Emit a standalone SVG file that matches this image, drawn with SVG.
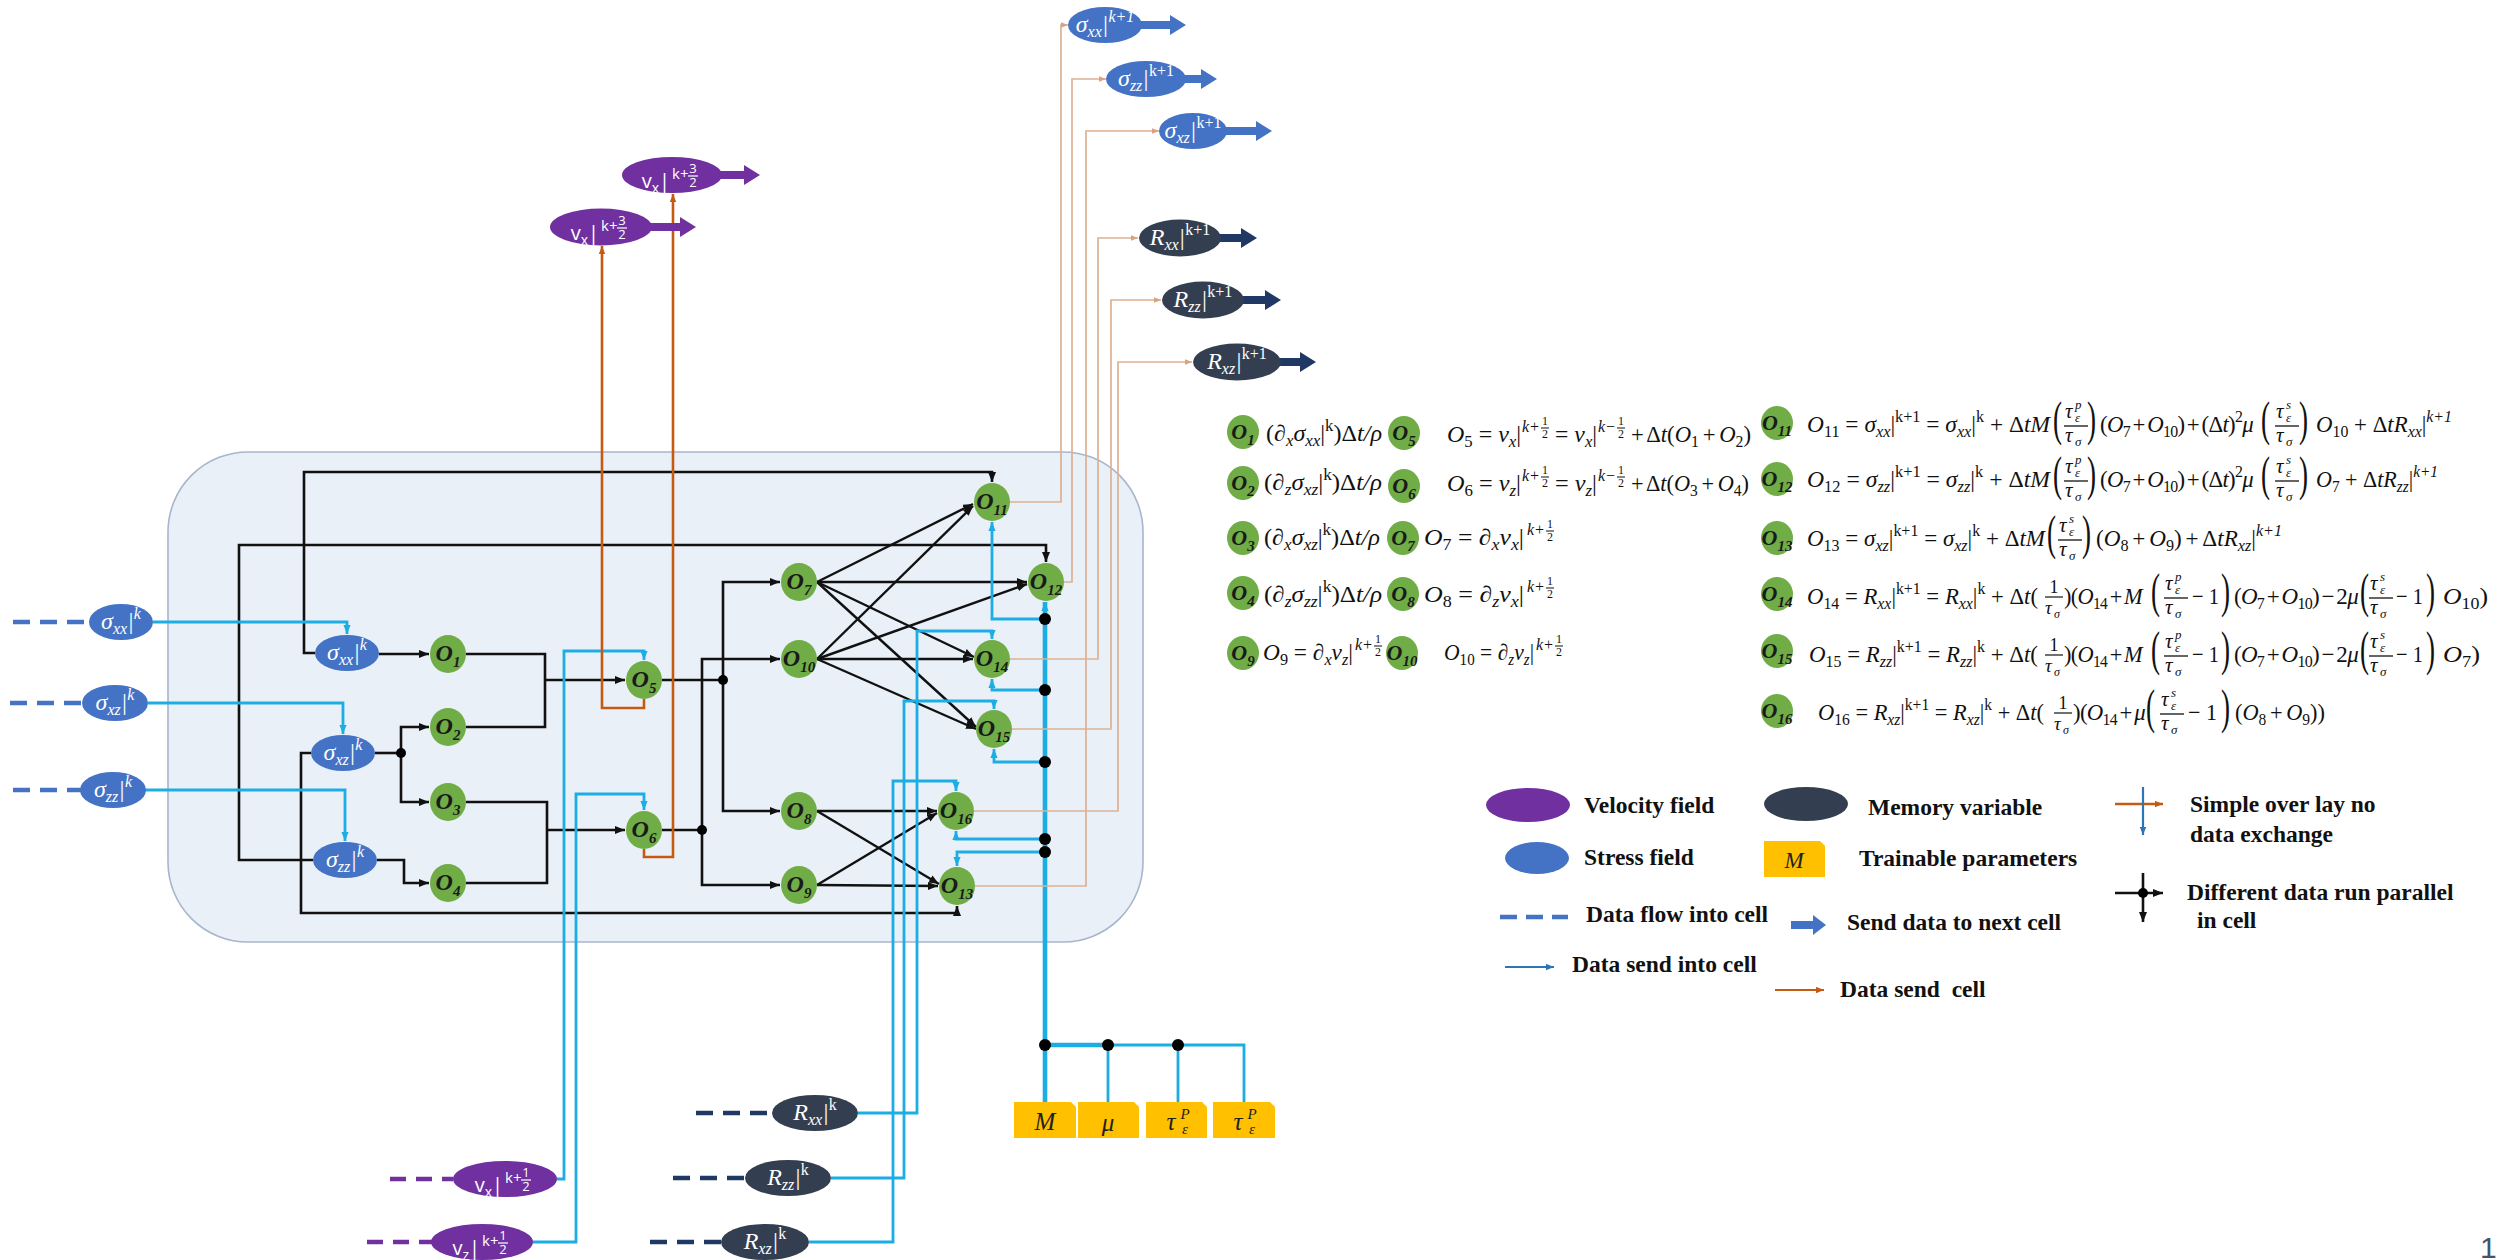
<svg xmlns="http://www.w3.org/2000/svg" width="2501" height="1260" viewBox="0 0 2501 1260">
<defs>
<style>
.cell{fill:#EAF0F8;stroke:#A7B6CB;stroke-width:1.6}
.kl{fill:none;stroke:#111;stroke-width:2.6}
.ka{fill:none;stroke:#111;stroke-width:2.6;marker-end:url(#ak)}
.kd{fill:none;stroke:#111;stroke-width:2.4;marker-end:url(#ak)}
.cl{fill:none;stroke:#1CADE4;stroke-width:2.8}
.ca{fill:none;stroke:#1CADE4;stroke-width:2.8;marker-end:url(#ac)}
.cb{stroke-width:4.6}
.oa{fill:none;stroke:#C55A11;stroke-width:2.6;marker-end:url(#ao)}
.ta{fill:none;stroke:#DDB193;stroke-width:1.7;marker-end:url(#at)}
.ds{fill:none;stroke:#4472C4;stroke-width:4.5;stroke-dasharray:17 10}
.dv{fill:none;stroke:#7030A0;stroke-width:4.5;stroke-dasharray:16 10}
.dr{fill:none;stroke:#1F3864;stroke-width:4.5;stroke-dasharray:17 10}
.dot{fill:#000}
.g{fill:#70AD47}
.sf{fill:#4472C4}
.vf{fill:#7030A0}
.mf{fill:#333F50}
.ma{fill:#203864}
.pf{fill:#FFC000}
.nl{font-family:"Liberation Serif",serif;font-weight:bold;font-style:italic;font-size:24px;fill:#1a1a1a;text-anchor:middle}
.nl2{font-family:"Liberation Serif",serif;font-weight:bold;font-style:italic;font-size:22px;fill:#1a1a1a;text-anchor:middle}
.ns{font-size:15px;baseline-shift:-6px}
.wl{font-family:"Liberation Serif",serif;font-style:italic;font-size:24px;fill:#fff;text-anchor:middle}
.ws{font-size:16px;baseline-shift:-5px}
.wp{font-size:16px;baseline-shift:10px}
.up{font-style:normal}
.vl{font-family:"Open Sans","Liberation Sans",sans-serif;font-size:20px;fill:#fff;text-anchor:end}
.vs{font-size:14px;baseline-shift:-5px}
.vk{font-family:"Open Sans","Liberation Sans",sans-serif;fill:#fff}
.m{font-family:"Liberation Serif",serif;font-style:italic;font-size:23px;fill:#111}
.tight{word-spacing:-2.5px;letter-spacing:-0.7px}
.snug{word-spacing:-2px}
.r{font-style:normal}
.sb{font-size:16px;baseline-shift:-5px}
.sp{font-size:16px;baseline-shift:10px}
.bp{font-family:"Liberation Serif",serif;font-size:48px;fill:#111}
.pl{font-family:"Liberation Serif",serif;font-style:italic;font-size:25px;fill:#222;text-anchor:middle}
.lg{font-family:"Liberation Serif",serif;font-weight:bold;font-size:23.5px;fill:#111}
</style>
<marker id="ak" viewBox="0 0 10 8" refX="10" refY="4" markerWidth="10" markerHeight="8" orient="auto" markerUnits="userSpaceOnUse"><path d="M0,0L10,4L0,8Z" fill="#111"/></marker>
<marker id="ac" viewBox="0 0 10 8" refX="10" refY="4" markerWidth="9" markerHeight="8" orient="auto" markerUnits="userSpaceOnUse"><path d="M0,0L10,4L0,8Z" fill="#1CADE4"/></marker>
<marker id="ao" viewBox="0 0 10 8" refX="10" refY="4" markerWidth="8" markerHeight="7" orient="auto" markerUnits="userSpaceOnUse"><path d="M0,0L10,4L0,8Z" fill="#C55A11"/></marker>
<marker id="at" viewBox="0 0 10 8" refX="10" refY="4" markerWidth="7" markerHeight="6" orient="auto" markerUnits="userSpaceOnUse"><path d="M0,0L10,4L0,8Z" fill="#D9A27E"/></marker>
<marker id="ab" viewBox="0 0 10 8" refX="10" refY="4" markerWidth="8" markerHeight="7" orient="auto" markerUnits="userSpaceOnUse"><path d="M0,0L10,4L0,8Z" fill="#2E75B6"/></marker>
<!-- stacked fractions used in the update equations -->
<g id="fP">
<text class="m" x="-11" y="-14" style="font-size:21px">τ</text>
<text class="m" x="-1" y="-23" style="font-size:13px">p</text>
<text class="m" x="-1" y="-10" style="font-size:13px">ε</text>
<line x1="-12" y1="-6" x2="12" y2="-6" stroke="#111" stroke-width="1.3"/>
<text class="m" x="-11" y="10" style="font-size:21px">τ</text>
<text class="m" x="-1" y="14" style="font-size:13px">σ</text>
</g>
<g id="fS">
<text class="m" x="-11" y="-14" style="font-size:21px">τ</text>
<text class="m" x="-1" y="-23" style="font-size:13px">s</text>
<text class="m" x="-1" y="-10" style="font-size:13px">ε</text>
<line x1="-12" y1="-6" x2="12" y2="-6" stroke="#111" stroke-width="1.3"/>
<text class="m" x="-11" y="10" style="font-size:21px">τ</text>
<text class="m" x="-1" y="14" style="font-size:13px">σ</text>
</g>
<g id="f1">
<text class="m r" x="0" y="-11" text-anchor="middle" style="font-size:18px">1</text>
<line x1="-9" y1="-7" x2="9" y2="-7" stroke="#111" stroke-width="1.2"/>
<text class="m" x="-9" y="10" style="font-size:19px">τ</text>
<text class="m" x="0" y="14" style="font-size:12px">σ</text>
</g>
<!-- half-step superscripts -->
<g id="ekp">
<text class="m" x="0" y="-10" style="font-size:16px">k+</text>
<text class="m r" x="23" y="-17" text-anchor="middle" style="font-size:12px">1</text>
<line x1="19" y1="-14" x2="27" y2="-14" stroke="#111" stroke-width="1"/>
<text class="m r" x="23" y="-4" text-anchor="middle" style="font-size:12px">2</text>
</g>
<g id="ekm">
<text class="m" x="0" y="-10" style="font-size:16px">k−</text>
<text class="m r" x="23" y="-17" text-anchor="middle" style="font-size:12px">1</text>
<line x1="19" y1="-14" x2="27" y2="-14" stroke="#111" stroke-width="1"/>
<text class="m r" x="23" y="-4" text-anchor="middle" style="font-size:12px">2</text>
</g>
<g id="k12">
<text class="vk" x="0" y="4" style="font-size:15px">k+</text>
<text class="vk" x="21" y="-2" text-anchor="middle" style="font-size:13px">1</text>
<line x1="16" y1="1" x2="26" y2="1" stroke="#fff" stroke-width="1.2"/>
<text class="vk" x="21" y="12" text-anchor="middle" style="font-size:13px">2</text>
</g>
<g id="k32">
<text class="vk" x="0" y="4" style="font-size:15px">k+</text>
<text class="vk" x="21" y="-2" text-anchor="middle" style="font-size:13px">3</text>
<line x1="16" y1="1" x2="26" y2="1" stroke="#fff" stroke-width="1.2"/>
<text class="vk" x="21" y="12" text-anchor="middle" style="font-size:13px">2</text>
</g>
</defs>

<rect width="2501" height="1260" fill="#fff"/>

<!-- recurrent cell body -->
<rect id="cell" class="cell" x="168" y="452" width="975" height="490" rx="80"/>

<g id="connectors">
<!-- data flowing in from the previous step -->
<line class="ds" x1="13" y1="622" x2="89" y2="622"/>
<line class="ds" x1="10" y1="703" x2="82" y2="703"/>
<line class="ds" x1="13" y1="790" x2="81" y2="790"/>
<line class="dv" x1="390" y1="1179" x2="453" y2="1179"/>
<line class="dv" x1="367" y1="1242" x2="432" y2="1242"/>
<line class="dr" x1="696" y1="1113" x2="772" y2="1113"/>
<line class="dr" x1="673" y1="1178" x2="745" y2="1178"/>
<line class="dr" x1="650" y1="1242" x2="721" y2="1242"/>

<!-- black data paths inside the cell -->
<path class="ka" d="M379,654H429"/>
<path class="ka" d="M315,653H304V472H992V482"/>
<path class="ka" d="M313,860H239V545H1046V562"/>
<path class="ka" d="M311,753H301V913H957V906"/>
<path class="kl" d="M375,753H401"/>
<path class="ka" d="M401,753V727H429"/>
<path class="ka" d="M401,753V802H429"/>
<path class="ka" d="M377,860H404V883H429"/>
<path class="kl" d="M466,654H545V727H466"/>
<path class="ka" d="M545,680H625"/>
<path class="kl" d="M466,802H547V883H466"/>
<path class="ka" d="M547,830H625"/>
<path class="kl" d="M662,680H723"/>
<path class="ka" d="M723,680V582H780"/>
<path class="ka" d="M723,680V811H780"/>
<path class="kl" d="M662,830H702"/>
<path class="ka" d="M702,830V659H780"/>
<path class="ka" d="M702,830V885H780"/>
<path class="kd" d="M817,582L973,504"/>
<path class="kd" d="M817,582L1027,582"/>
<path class="kd" d="M817,582L974,657"/>
<path class="kd" d="M817,582L976,727"/>
<path class="kd" d="M817,659L973,506"/>
<path class="kd" d="M817,659L1027,584"/>
<path class="kd" d="M817,659L973,659"/>
<path class="kd" d="M817,659L976,729"/>
<path class="kd" d="M817,811L937,811"/>
<path class="kd" d="M817,811L939,884"/>
<path class="kd" d="M817,885L937,813"/>
<path class="kd" d="M817,885L938,886"/>

<!-- data sent into the cell -->
<path class="ca" d="M153,622H347V634"/>
<path class="ca" d="M148,703H343V734"/>
<path class="ca" d="M145,790H345V841"/>
<path class="ca" d="M557,1179H564V651H644V660"/>
<path class="ca" d="M533,1242H576V794H644V810"/>
<path class="ca" d="M858,1113H917V631H992V639"/>
<path class="ca" d="M831,1178H904V701H994V709"/>
<path class="ca" d="M809,1242H893V781H956V791"/>
<path class="ca cb" d="M1045,1102V602"/>
<path class="ca" d="M1045,619H992V522"/>
<path class="ca" d="M1045,690H992V679"/>
<path class="ca" d="M1045,762H994V749"/>
<path class="ca" d="M1045,839H956V831"/>
<path class="ca" d="M1045,852H957V866"/>
<path class="cl cb" d="M1045,1045H1108"/>
<path class="cl" d="M1108,1045H1244V1102"/>
<path class="cl" d="M1108,1045V1102"/>
<path class="cl" d="M1178,1045V1102"/>

<!-- data sent out of the cell -->
<path class="oa" d="M644,699V708H602V246"/>
<path class="oa" d="M644,849V857H673V194"/>
<path class="ta" d="M1010,502H1061V25H1068"/>
<path class="ta" d="M1064,582H1072V79H1106"/>
<path class="ta" d="M975,886H1086V131H1159"/>
<path class="ta" d="M1010,659H1098V238H1138"/>
<path class="ta" d="M1012,729H1111V300H1161"/>
<path class="ta" d="M974,811H1118V362H1192"/>

<!-- junctions -->
<circle class="dot" cx="401" cy="753" r="5"/>
<circle class="dot" cx="723" cy="680" r="5"/>
<circle class="dot" cx="702" cy="830" r="5"/>
<circle class="dot" cx="1045" cy="619" r="6"/>
<circle class="dot" cx="1045" cy="690" r="6"/>
<circle class="dot" cx="1045" cy="762" r="6"/>
<circle class="dot" cx="1045" cy="839" r="6"/>
<circle class="dot" cx="1045" cy="852" r="6"/>
<circle class="dot" cx="1045" cy="1045" r="6"/>
<circle class="dot" cx="1108" cy="1045" r="6"/>
<circle class="dot" cx="1178" cy="1045" r="6"/>
</g>

<!-- stress inputs -->
<g id="in-sxx"><ellipse class="sf" cx="121" cy="622" rx="32" ry="18"/><text class="wl" x="121" y="629">σ<tspan class="ws">xx</tspan>|<tspan class="wp">k</tspan></text></g>
<g id="in-sxz"><ellipse class="sf" cx="115" cy="703" rx="33" ry="18"/><text class="wl" x="115" y="710">σ<tspan class="ws">xz</tspan>|<tspan class="wp">k</tspan></text></g>
<g id="in-szz"><ellipse class="sf" cx="113" cy="790" rx="33" ry="18"/><text class="wl" x="113" y="797">σ<tspan class="ws">zz</tspan>|<tspan class="wp">k</tspan></text></g>
<g id="c-sxx"><ellipse class="sf" cx="347" cy="653" rx="32" ry="18"/><text class="wl" x="347" y="660">σ<tspan class="ws">xx</tspan>|<tspan class="wp">k</tspan></text></g>
<g id="c-sxz"><ellipse class="sf" cx="343" cy="753" rx="32" ry="18"/><text class="wl" x="343" y="760">σ<tspan class="ws">xz</tspan>|<tspan class="wp">k</tspan></text></g>
<g id="c-szz"><ellipse class="sf" cx="345" cy="860" rx="32" ry="18"/><text class="wl" x="345" y="867">σ<tspan class="ws">zz</tspan>|<tspan class="wp">k</tspan></text></g>

<!-- velocity inputs -->
<g id="in-vx"><ellipse class="vf" cx="505" cy="1179" rx="52" ry="18"/><text class="vl" x="503" y="1192">v<tspan class="vs">x</tspan>|</text><use href="#k12" x="505" y="1179"/></g>
<g id="in-vz"><ellipse class="vf" cx="482" cy="1242" rx="51" ry="18"/><text class="vl" x="480" y="1255">v<tspan class="vs">z</tspan>|</text><use href="#k12" x="482" y="1242"/></g>

<!-- memory inputs -->
<g id="in-rxx"><ellipse class="mf" cx="815" cy="1113" rx="43" ry="18"/><text class="wl" x="815" y="1120">R<tspan class="ws">xx</tspan>|<tspan class="wp up">k</tspan></text></g>
<g id="in-rzz"><ellipse class="mf" cx="788" cy="1178" rx="43" ry="18"/><text class="wl" x="788" y="1185">R<tspan class="ws">zz</tspan>|<tspan class="wp up">k</tspan></text></g>
<g id="in-rxz"><ellipse class="mf" cx="765" cy="1242" rx="44" ry="18"/><text class="wl" x="765" y="1249">R<tspan class="ws">xz</tspan>|<tspan class="wp up">k</tspan></text></g>

<!-- operation nodes -->
<g id="O1"><ellipse class="g" cx="448" cy="654" rx="18" ry="19"/><text class="nl" x="448" y="661">O<tspan class="ns">1</tspan></text></g>
<g id="O2"><ellipse class="g" cx="448" cy="727" rx="18" ry="19"/><text class="nl" x="448" y="734">O<tspan class="ns">2</tspan></text></g>
<g id="O3"><ellipse class="g" cx="448" cy="802" rx="18" ry="19"/><text class="nl" x="448" y="809">O<tspan class="ns">3</tspan></text></g>
<g id="O4"><ellipse class="g" cx="448" cy="883" rx="18" ry="19"/><text class="nl" x="448" y="890">O<tspan class="ns">4</tspan></text></g>
<g id="O5"><ellipse class="g" cx="644" cy="680" rx="18" ry="19"/><text class="nl" x="644" y="687">O<tspan class="ns">5</tspan></text></g>
<g id="O6"><ellipse class="g" cx="644" cy="830" rx="18" ry="19"/><text class="nl" x="644" y="837">O<tspan class="ns">6</tspan></text></g>
<g id="O7"><ellipse class="g" cx="799" cy="582" rx="18" ry="19"/><text class="nl" x="799" y="589">O<tspan class="ns">7</tspan></text></g>
<g id="O10"><ellipse class="g" cx="799" cy="659" rx="18" ry="19"/><text class="nl" x="799" y="666">O<tspan class="ns">10</tspan></text></g>
<g id="O8"><ellipse class="g" cx="799" cy="811" rx="18" ry="19"/><text class="nl" x="799" y="818">O<tspan class="ns">8</tspan></text></g>
<g id="O9"><ellipse class="g" cx="799" cy="885" rx="18" ry="19"/><text class="nl" x="799" y="892">O<tspan class="ns">9</tspan></text></g>
<g id="O11"><ellipse class="g" cx="992" cy="502" rx="18" ry="19"/><text class="nl" x="992" y="509">O<tspan class="ns">11</tspan></text></g>
<g id="O12"><ellipse class="g" cx="1046" cy="582" rx="18" ry="19"/><text class="nl" x="1046" y="589">O<tspan class="ns">12</tspan></text></g>
<g id="O14"><ellipse class="g" cx="992" cy="659" rx="18" ry="19"/><text class="nl" x="992" y="666">O<tspan class="ns">14</tspan></text></g>
<g id="O15"><ellipse class="g" cx="994" cy="729" rx="18" ry="19"/><text class="nl" x="994" y="736">O<tspan class="ns">15</tspan></text></g>
<g id="O16"><ellipse class="g" cx="956" cy="811" rx="18" ry="19"/><text class="nl" x="956" y="818">O<tspan class="ns">16</tspan></text></g>
<g id="O13"><ellipse class="g" cx="957" cy="886" rx="18" ry="19"/><text class="nl" x="957" y="893">O<tspan class="ns">13</tspan></text></g>

<!-- trainable parameters -->
<g id="p-M"><path class="pf" d="M1014,1138V1102H1071L1076,1107V1138Z"/><text class="pl" x="1045" y="1130">M</text></g>
<g id="p-mu"><path class="pf" d="M1078,1138V1102H1134L1139,1107V1138Z"/><text class="pl" x="1108" y="1131">μ</text></g>
<g id="p-tau1"><path class="pf" d="M1146,1138V1102H1202L1207,1107V1138Z"/><text class="pl" x="1171" y="1130">τ</text><text class="pl" x="1185" y="1119" style="font-size:15px">P</text><text class="pl" x="1185" y="1134" style="font-size:15px">ε</text></g>
<g id="p-tau2"><path class="pf" d="M1213,1138V1102H1270L1275,1107V1138Z"/><text class="pl" x="1238" y="1130">τ</text><text class="pl" x="1252" y="1119" style="font-size:15px">P</text><text class="pl" x="1252" y="1134" style="font-size:15px">ε</text></g>

<!-- velocity outputs -->
<g id="out-vx1"><path class="vf" d="M648,223H680V217L696,227L680,237V231H648Z"/><ellipse class="vf" cx="601" cy="227" rx="51" ry="18.5"/><text class="vl" x="599" y="240">v<tspan class="vs">x</tspan>|</text><use href="#k32" x="601" y="227"/></g>
<g id="out-vx2"><path class="vf" d="M718,171H744V165L760,175L744,185V179H718Z"/><ellipse class="vf" cx="672" cy="175" rx="50" ry="18"/><text class="vl" x="670" y="188">v<tspan class="vs">x</tspan>|</text><use href="#k32" x="672" y="175"/></g>

<!-- stress outputs -->
<g id="out-sxx"><path class="sf" d="M1138,21H1170V15L1186,25L1170,35V29H1138Z"/><ellipse class="sf" cx="1105" cy="25" rx="37" ry="18"/><text class="wl" x="1105" y="32">σ<tspan class="ws">xx</tspan>|<tspan class="wp">k+1</tspan></text></g>
<g id="out-szz"><path class="sf" d="M1180,75H1201V69L1217,79L1201,89V83H1180Z"/><ellipse class="sf" cx="1146" cy="79" rx="40" ry="18"/><text class="wl" x="1146" y="86">σ<tspan class="ws">zz</tspan>|<tspan class="wp up">k+1</tspan></text></g>
<g id="out-sxz"><path class="sf" d="M1222,127H1256V121L1272,131L1256,141V135H1222Z"/><ellipse class="sf" cx="1193" cy="131" rx="34" ry="18"/><text class="wl" x="1193" y="138">σ<tspan class="ws">xz</tspan>|<tspan class="wp up">k+1</tspan></text></g>

<!-- memory outputs -->
<g id="out-rxx"><path class="ma" d="M1218,234H1241V228L1257,238L1241,248V242H1218Z"/><ellipse class="mf" cx="1180" cy="238" rx="41" ry="18.5"/><text class="wl" x="1180" y="245">R<tspan class="ws">xx</tspan>|<tspan class="wp up">k+1</tspan></text></g>
<g id="out-rzz"><path class="ma" d="M1240,296H1265V290L1281,300L1265,310V304H1240Z"/><ellipse class="mf" cx="1203" cy="300" rx="41" ry="18.5"/><text class="wl" x="1203" y="307">R<tspan class="ws">zz</tspan>|<tspan class="wp up">k+1</tspan></text></g>
<g id="out-rxz"><path class="ma" d="M1276,358H1300V352L1316,362L1300,372V366H1276Z"/><ellipse class="mf" cx="1237" cy="362" rx="44" ry="18.5"/><text class="wl" x="1237" y="369">R<tspan class="ws">xz</tspan>|<tspan class="wp up">k+1</tspan></text></g>

<!-- operation definitions, columns 1 and 2 -->
<g id="defs-left">
<ellipse class="g" cx="1243" cy="432" rx="16" ry="17"/><text class="nl2" x="1243" y="439">O<tspan class="ns">1</tspan></text>
<ellipse class="g" cx="1243" cy="483" rx="16" ry="17"/><text class="nl2" x="1243" y="490">O<tspan class="ns">2</tspan></text>
<ellipse class="g" cx="1243" cy="538" rx="16" ry="17"/><text class="nl2" x="1243" y="545">O<tspan class="ns">3</tspan></text>
<ellipse class="g" cx="1243" cy="593" rx="16" ry="17"/><text class="nl2" x="1243" y="600">O<tspan class="ns">4</tspan></text>
<ellipse class="g" cx="1243" cy="653" rx="16" ry="17"/><text class="nl2" x="1243" y="660">O<tspan class="ns">9</tspan></text>
<ellipse class="g" cx="1404" cy="433" rx="16" ry="17"/><text class="nl2" x="1404" y="440">O<tspan class="ns">5</tspan></text>
<ellipse class="g" cx="1404" cy="486" rx="16" ry="17"/><text class="nl2" x="1404" y="493">O<tspan class="ns">6</tspan></text>
<ellipse class="g" cx="1403" cy="538" rx="16" ry="17"/><text class="nl2" x="1403" y="545">O<tspan class="ns">7</tspan></text>
<ellipse class="g" cx="1403" cy="594" rx="16" ry="17"/><text class="nl2" x="1403" y="601">O<tspan class="ns">8</tspan></text>
<ellipse class="g" cx="1402" cy="653" rx="16" ry="17"/><text class="nl2" x="1402" y="660">O<tspan class="ns">10</tspan></text>

<text class="m" x="1266" y="441" textLength="116" lengthAdjust="spacingAndGlyphs"><tspan class="r">(</tspan>∂<tspan class="sb">x</tspan>σ<tspan class="sb">xx</tspan><tspan class="r">|</tspan><tspan class="sp r">k</tspan><tspan class="r">)Δ</tspan>t/ρ</text>
<text class="m" x="1264" y="490" textLength="118" lengthAdjust="spacingAndGlyphs"><tspan class="r">(</tspan>∂<tspan class="sb">z</tspan>σ<tspan class="sb">xz</tspan><tspan class="r">|</tspan><tspan class="sp r">k</tspan><tspan class="r">)Δ</tspan>t/ρ</text>
<text class="m" x="1264" y="545" textLength="116" lengthAdjust="spacingAndGlyphs"><tspan class="r">(</tspan>∂<tspan class="sb">x</tspan>σ<tspan class="sb">xz</tspan><tspan class="r">|</tspan><tspan class="sp r">k</tspan><tspan class="r">)Δ</tspan>t/ρ</text>
<text class="m" x="1264" y="602" textLength="118" lengthAdjust="spacingAndGlyphs"><tspan class="r">(</tspan>∂<tspan class="sb">z</tspan>σ<tspan class="sb">zz</tspan><tspan class="r">|</tspan><tspan class="sp r">k</tspan><tspan class="r">)Δ</tspan>t/ρ</text>
<text class="m" x="1263" y="660" textLength="90" lengthAdjust="spacingAndGlyphs">O<tspan class="sb r">9</tspan><tspan class="r"> = </tspan>∂<tspan class="sb">x</tspan>v<tspan class="sb">z</tspan><tspan class="r">|</tspan></text>
<use href="#ekp" x="1355" y="660"/>

<text class="m" x="1447" y="442" textLength="74" lengthAdjust="spacingAndGlyphs">O<tspan class="sb r">5</tspan><tspan class="r"> = </tspan>v<tspan class="sb">x</tspan><tspan class="r">|</tspan></text>
<use href="#ekp" x="1522" y="442"/>
<text class="m" x="1555" y="442" textLength="42" lengthAdjust="spacingAndGlyphs"><tspan class="r">= </tspan>v<tspan class="sb">x</tspan><tspan class="r">|</tspan></text>
<use href="#ekm" x="1598" y="442"/>
<text class="m snug" x="1631" y="442" textLength="120" lengthAdjust="spacingAndGlyphs"><tspan class="r">+ Δ</tspan>t<tspan class="r">(</tspan>O<tspan class="sb r">1</tspan><tspan class="r"> + </tspan>O<tspan class="sb r">2</tspan><tspan class="r">)</tspan></text>

<text class="m" x="1447" y="491" textLength="74" lengthAdjust="spacingAndGlyphs">O<tspan class="sb r">6</tspan><tspan class="r"> = </tspan>v<tspan class="sb">z</tspan><tspan class="r">|</tspan></text>
<use href="#ekp" x="1522" y="491"/>
<text class="m" x="1555" y="491" textLength="42" lengthAdjust="spacingAndGlyphs"><tspan class="r">= </tspan>v<tspan class="sb">z</tspan><tspan class="r">|</tspan></text>
<use href="#ekm" x="1598" y="491"/>
<text class="m snug" x="1631" y="491" textLength="118" lengthAdjust="spacingAndGlyphs"><tspan class="r">+ Δ</tspan>t<tspan class="r">(</tspan>O<tspan class="sb r">3</tspan><tspan class="r"> + </tspan>O<tspan class="sb r">4</tspan><tspan class="r">)</tspan></text>

<text class="m" x="1424" y="545" textLength="100" lengthAdjust="spacingAndGlyphs">O<tspan class="sb r">7</tspan><tspan class="r"> = </tspan>∂<tspan class="sb">x</tspan>v<tspan class="sb">x</tspan><tspan class="r">|</tspan></text>
<use href="#ekp" x="1527" y="545"/>
<text class="m" x="1424" y="602" textLength="100" lengthAdjust="spacingAndGlyphs">O<tspan class="sb r">8</tspan><tspan class="r"> = </tspan>∂<tspan class="sb">z</tspan>v<tspan class="sb">x</tspan><tspan class="r">|</tspan></text>
<use href="#ekp" x="1527" y="602"/>
<text class="m" x="1444" y="660" textLength="90" lengthAdjust="spacingAndGlyphs">O<tspan class="sb r">10</tspan><tspan class="r"> = </tspan>∂<tspan class="sb">z</tspan>v<tspan class="sb">z</tspan><tspan class="r">|</tspan></text>
<use href="#ekp" x="1536" y="660"/>
</g>

<!-- stress and memory update equations -->
<g id="defs-right">
<ellipse class="g" cx="1777" cy="423" rx="16" ry="17"/><text class="nl2" x="1777" y="430">O<tspan class="ns">11</tspan></text>
<ellipse class="g" cx="1777" cy="479" rx="16" ry="17"/><text class="nl2" x="1777" y="486">O<tspan class="ns">12</tspan></text>
<ellipse class="g" cx="1777" cy="538" rx="16" ry="17"/><text class="nl2" x="1777" y="545">O<tspan class="ns">13</tspan></text>
<ellipse class="g" cx="1777" cy="594" rx="16" ry="17"/><text class="nl2" x="1777" y="601">O<tspan class="ns">14</tspan></text>
<ellipse class="g" cx="1777" cy="651" rx="16" ry="17"/><text class="nl2" x="1777" y="658">O<tspan class="ns">15</tspan></text>
<ellipse class="g" cx="1777" cy="711" rx="16" ry="17"/><text class="nl2" x="1777" y="718">O<tspan class="ns">16</tspan></text>

<!-- O11 -->
<text class="m" x="1807" y="432" textLength="243" lengthAdjust="spacingAndGlyphs">O<tspan class="sb r">11</tspan><tspan class="r"> = </tspan>σ<tspan class="sb">xx</tspan><tspan class="r">|</tspan><tspan class="sp r">k+1</tspan><tspan class="r"> = </tspan>σ<tspan class="sb">xx</tspan><tspan class="r">|</tspan><tspan class="sp r">k</tspan><tspan class="r"> + Δ</tspan>tM</text>
<text class="bp" x="2053" y="435" textLength="9" lengthAdjust="spacingAndGlyphs">(</text>
<use href="#fP" x="2076" y="432"/>
<text class="bp" x="2087" y="435" textLength="9" lengthAdjust="spacingAndGlyphs">)</text>
<text class="m tight" x="2100" y="432" textLength="153" lengthAdjust="spacingAndGlyphs"><tspan class="r">(</tspan>O<tspan class="sb r">7</tspan><tspan class="r"> + </tspan>O<tspan class="sb r">10</tspan><tspan class="r">) + (Δ</tspan>t<tspan class="r">)</tspan><tspan class="sp r">2</tspan>μ</text>
<text class="bp" x="2261" y="435" textLength="9" lengthAdjust="spacingAndGlyphs">(</text>
<use href="#fS" x="2287" y="432"/>
<text class="bp" x="2299" y="435" textLength="9" lengthAdjust="spacingAndGlyphs">)</text>
<text class="m" x="2316" y="432" textLength="136" lengthAdjust="spacingAndGlyphs">O<tspan class="sb r">10</tspan><tspan class="r"> + Δ</tspan>tR<tspan class="sb">xx</tspan><tspan class="r">|</tspan><tspan class="sp">k+1</tspan></text>

<!-- O12 -->
<text class="m" x="1807" y="487" textLength="243" lengthAdjust="spacingAndGlyphs">O<tspan class="sb r">12</tspan><tspan class="r"> = </tspan>σ<tspan class="sb">zz</tspan><tspan class="r">|</tspan><tspan class="sp r">k+1</tspan><tspan class="r"> = </tspan>σ<tspan class="sb">zz</tspan><tspan class="r">|</tspan><tspan class="sp r">k</tspan><tspan class="r"> + Δ</tspan>tM</text>
<text class="bp" x="2053" y="490" textLength="9" lengthAdjust="spacingAndGlyphs">(</text>
<use href="#fP" x="2076" y="487"/>
<text class="bp" x="2087" y="490" textLength="9" lengthAdjust="spacingAndGlyphs">)</text>
<text class="m tight" x="2100" y="487" textLength="153" lengthAdjust="spacingAndGlyphs"><tspan class="r">(</tspan>O<tspan class="sb r">7</tspan><tspan class="r"> + </tspan>O<tspan class="sb r">10</tspan><tspan class="r">) + (Δ</tspan>t<tspan class="r">)</tspan><tspan class="sp r">2</tspan>μ</text>
<text class="bp" x="2261" y="490" textLength="9" lengthAdjust="spacingAndGlyphs">(</text>
<use href="#fS" x="2287" y="487"/>
<text class="bp" x="2299" y="490" textLength="9" lengthAdjust="spacingAndGlyphs">)</text>
<text class="m" x="2316" y="487" textLength="122" lengthAdjust="spacingAndGlyphs">O<tspan class="sb r">7</tspan><tspan class="r"> + Δ</tspan>tR<tspan class="sb">zz</tspan><tspan class="r">|</tspan><tspan class="sp">k+1</tspan></text>

<!-- O13 -->
<text class="m" x="1807" y="546" textLength="238" lengthAdjust="spacingAndGlyphs">O<tspan class="sb r">13</tspan><tspan class="r"> = </tspan>σ<tspan class="sb">xz</tspan><tspan class="r">|</tspan><tspan class="sp r">k+1</tspan><tspan class="r"> = </tspan>σ<tspan class="sb">xz</tspan><tspan class="r">|</tspan><tspan class="sp r">k</tspan><tspan class="r"> + Δ</tspan>tM</text>
<text class="bp" x="2047" y="549" textLength="9" lengthAdjust="spacingAndGlyphs">(</text>
<use href="#fS" x="2070" y="546"/>
<text class="bp" x="2082" y="549" textLength="9" lengthAdjust="spacingAndGlyphs">)</text>
<text class="m snug" x="2096" y="546" textLength="186" lengthAdjust="spacingAndGlyphs"><tspan class="r">(</tspan>O<tspan class="sb r">8</tspan><tspan class="r"> + </tspan>O<tspan class="sb r">9</tspan><tspan class="r">) + Δ</tspan>tR<tspan class="sb">xz</tspan><tspan class="r">|</tspan><tspan class="sp">k+1</tspan></text>

<!-- O14 -->
<text class="m" x="1807" y="604" textLength="231" lengthAdjust="spacingAndGlyphs">O<tspan class="sb r">14</tspan><tspan class="r"> = </tspan>R<tspan class="sb">xx</tspan><tspan class="r">|</tspan><tspan class="sp r">k+1</tspan><tspan class="r"> = </tspan>R<tspan class="sb">xx</tspan><tspan class="r">|</tspan><tspan class="sp r">k</tspan><tspan class="r"> + Δ</tspan>t<tspan class="r">(</tspan></text>
<use href="#f1" x="2054" y="604"/>
<text class="m tight" x="2064" y="604" textLength="78" lengthAdjust="spacingAndGlyphs"><tspan class="r">)(</tspan>O<tspan class="sb r">14</tspan><tspan class="r"> + </tspan>M</text>
<text class="bp" x="2151" y="607" textLength="9" lengthAdjust="spacingAndGlyphs">(</text>
<use href="#fP" x="2176" y="604"/>
<text class="m r" x="2192" y="604" textLength="27" lengthAdjust="spacingAndGlyphs">− 1</text>
<text class="bp" x="2221" y="607" textLength="9" lengthAdjust="spacingAndGlyphs">)</text>
<text class="m tight" x="2234" y="604" textLength="124" lengthAdjust="spacingAndGlyphs"><tspan class="r">(</tspan>O<tspan class="sb r">7</tspan><tspan class="r"> + </tspan>O<tspan class="sb r">10</tspan><tspan class="r">) − 2</tspan>μ</text>
<text class="bp" x="2360" y="607" textLength="9" lengthAdjust="spacingAndGlyphs">(</text>
<use href="#fS" x="2381" y="604"/>
<text class="m r" x="2396" y="604" textLength="27" lengthAdjust="spacingAndGlyphs">− 1</text>
<text class="bp" x="2426" y="607" textLength="9" lengthAdjust="spacingAndGlyphs">)</text>
<text class="m" x="2443" y="604" textLength="45" lengthAdjust="spacingAndGlyphs">O<tspan class="sb r">10</tspan><tspan class="r">)</tspan></text>

<!-- O15 -->
<text class="m" x="1809" y="662" textLength="229" lengthAdjust="spacingAndGlyphs">O<tspan class="sb r">15</tspan><tspan class="r"> = </tspan>R<tspan class="sb">zz</tspan><tspan class="r">|</tspan><tspan class="sp r">k+1</tspan><tspan class="r"> = </tspan>R<tspan class="sb">zz</tspan><tspan class="r">|</tspan><tspan class="sp r">k</tspan><tspan class="r"> + Δ</tspan>t<tspan class="r">(</tspan></text>
<use href="#f1" x="2054" y="662"/>
<text class="m tight" x="2064" y="662" textLength="78" lengthAdjust="spacingAndGlyphs"><tspan class="r">)(</tspan>O<tspan class="sb r">14</tspan><tspan class="r"> + </tspan>M</text>
<text class="bp" x="2151" y="665" textLength="9" lengthAdjust="spacingAndGlyphs">(</text>
<use href="#fP" x="2176" y="662"/>
<text class="m r" x="2192" y="662" textLength="27" lengthAdjust="spacingAndGlyphs">− 1</text>
<text class="bp" x="2221" y="665" textLength="9" lengthAdjust="spacingAndGlyphs">)</text>
<text class="m tight" x="2234" y="662" textLength="124" lengthAdjust="spacingAndGlyphs"><tspan class="r">(</tspan>O<tspan class="sb r">7</tspan><tspan class="r"> + </tspan>O<tspan class="sb r">10</tspan><tspan class="r">) − 2</tspan>μ</text>
<text class="bp" x="2360" y="665" textLength="9" lengthAdjust="spacingAndGlyphs">(</text>
<use href="#fS" x="2381" y="662"/>
<text class="m r" x="2396" y="662" textLength="27" lengthAdjust="spacingAndGlyphs">− 1</text>
<text class="bp" x="2426" y="665" textLength="9" lengthAdjust="spacingAndGlyphs">)</text>
<text class="m" x="2443" y="662" textLength="37" lengthAdjust="spacingAndGlyphs">O<tspan class="sb r">7</tspan><tspan class="r">)</tspan></text>

<!-- O16 -->
<text class="m" x="1818" y="720" textLength="226" lengthAdjust="spacingAndGlyphs">O<tspan class="sb r">16</tspan><tspan class="r"> = </tspan>R<tspan class="sb">xz</tspan><tspan class="r">|</tspan><tspan class="sp r">k+1</tspan><tspan class="r"> = </tspan>R<tspan class="sb">xz</tspan><tspan class="r">|</tspan><tspan class="sp r">k</tspan><tspan class="r"> + Δ</tspan>t<tspan class="r">(</tspan></text>
<use href="#f1" x="2063" y="720"/>
<text class="m tight" x="2073" y="720" textLength="72" lengthAdjust="spacingAndGlyphs"><tspan class="r">)(</tspan>O<tspan class="sb r">14</tspan><tspan class="r"> + </tspan>μ</text>
<text class="bp" x="2146" y="723" textLength="9" lengthAdjust="spacingAndGlyphs">(</text>
<use href="#fS" x="2172" y="720"/>
<text class="m r" x="2188" y="720" textLength="29" lengthAdjust="spacingAndGlyphs">− 1</text>
<text class="bp" x="2221" y="723" textLength="9" lengthAdjust="spacingAndGlyphs">)</text>
<text class="m snug" x="2235" y="720" textLength="90" lengthAdjust="spacingAndGlyphs"><tspan class="r">(</tspan>O<tspan class="sb r">8</tspan><tspan class="r"> + </tspan>O<tspan class="sb r">9</tspan><tspan class="r">))</tspan></text>
</g>

<!-- legend -->
<g id="legend">
<ellipse class="vf" cx="1528" cy="805" rx="42" ry="17"/>
<text class="lg" x="1584" y="813">Velocity field</text>
<ellipse class="mf" cx="1806" cy="804" rx="42" ry="17"/>
<text class="lg" x="1868" y="815">Memory variable</text>
<ellipse class="sf" cx="1537" cy="858" rx="32" ry="16"/>
<text class="lg" x="1584" y="865">Stress field</text>
<path class="pf" d="M1764,877V841H1820L1825,846V877Z"/>
<text class="pl" x="1794" y="868" style="font-size:23px">M</text>
<text class="lg" x="1859" y="866">Trainable parameters</text>
<line x1="1500" y1="917" x2="1568" y2="917" style="stroke:#4472C4;stroke-width:4.5;stroke-dasharray:17 9"/>
<text class="lg" x="1586" y="922">Data flow into cell</text>
<path class="sf" d="M1791,921H1813V915L1826,925L1813,935V929H1791Z"/>
<text class="lg" x="1847" y="930">Send data to next cell</text>
<line x1="1505" y1="967" x2="1554" y2="967" style="stroke:#2E75B6;stroke-width:2.2;marker-end:url(#ab)"/>
<text class="lg" x="1572" y="972">Data send into cell</text>
<line x1="1775" y1="990" x2="1824" y2="990" style="stroke:#C55A11;stroke-width:2.2;marker-end:url(#ao)"/>
<text class="lg" x="1840" y="997">Data send&#160; cell</text>
<line x1="2115" y1="804" x2="2163" y2="804" style="stroke:#C55A11;stroke-width:2.6;marker-end:url(#ao)"/>
<line x1="2143" y1="787" x2="2143" y2="835" style="stroke:#2E75B6;stroke-width:2.2;marker-end:url(#ab)"/>
<text class="lg" x="2190" y="812">Simple over lay no</text>
<text class="lg" x="2190" y="842">data exchange</text>
<line x1="2115" y1="893" x2="2163" y2="893" style="stroke:#111;stroke-width:2.6;marker-end:url(#ak)"/>
<line x1="2143" y1="873" x2="2143" y2="922" style="stroke:#111;stroke-width:2.6;marker-end:url(#ak)"/>
<circle class="dot" cx="2143" cy="893" r="5"/>
<text class="lg" x="2187" y="900">Different data run parallel</text>
<text class="lg" x="2197" y="928">in cell</text>
</g>

<text x="2480" y="1258" style="font-family:'Liberation Sans',sans-serif;font-size:30px;fill:#44546A">1</text>
</svg>
